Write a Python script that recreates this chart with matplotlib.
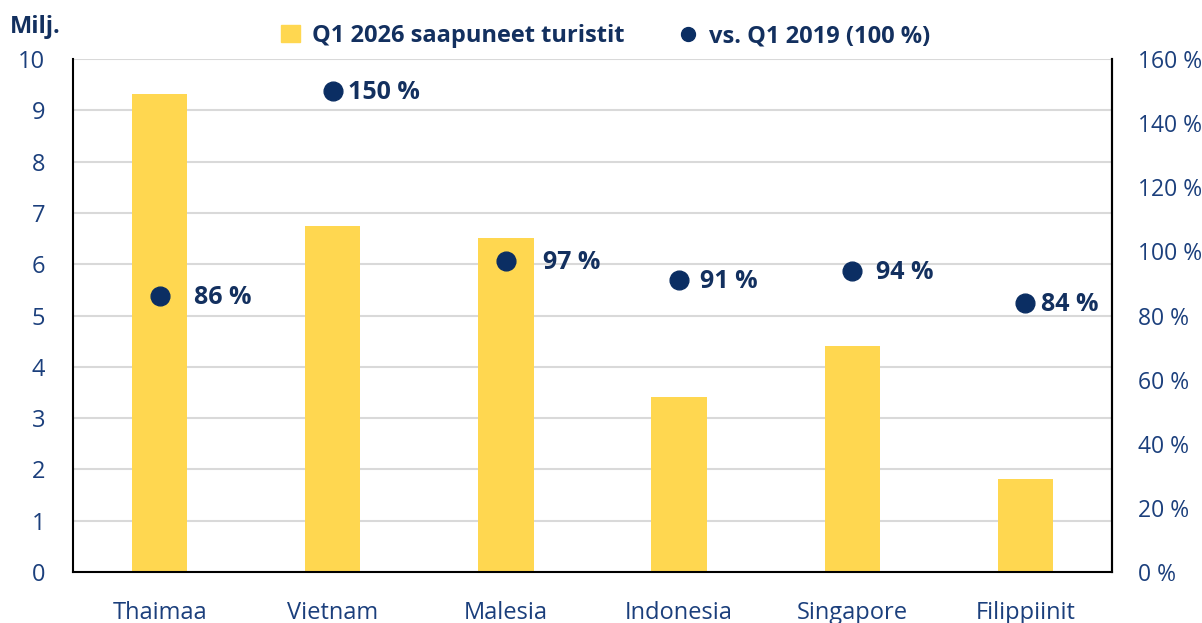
import numpy as np
import matplotlib
matplotlib.use("Agg")
import matplotlib.pyplot as plt
from matplotlib.lines import Line2D
from matplotlib.patches import Patch

plt.rcParams['font.family'] = ['Open Sans', 'DejaVu Sans']

countries = ['Thaimaa', 'Vietnam', 'Malesia', 'Indonesia', 'Singapore', 'Filippiinit']
arrivals = [9.32, 6.75, 6.51, 3.41, 4.41, 1.81]
vs_2019 = [86, 150, 97, 91, 94, 84]
left_ticks = list(range(0, 11))
right_ticks = list(range(0, 161, 20))

# label offsets (points) to the right of each dot, as placed in the original
label_dx = [25, 11, 27, 15, 17, 11]

bar_col = '#FFD750'
dot_col = '#0B2E63'
txt_col = '#1B3F7C'
navy = '#13305F'

fig = plt.figure(figsize=(12.02, 6.23), dpi=100)
ax = fig.add_axes([73/1202, 1-572/623, (1112-73)/1202, (572-59)/623])
x = np.arange(len(countries))
ax.bar(x, arrivals, width=0.32, color=bar_col, zorder=2)
ax.set_xlim(-0.5, len(countries)-0.5)
ax.set_ylim(0, 10)
ax.set_yticks(left_ticks)
ax.grid(axis='y', color='#D9D9D9', lw=1.5, zorder=0)
ax.set_axisbelow(True)
ax.set_xticks(x)
ax.set_xticklabels(countries)
ax.tick_params(axis='x', length=0, pad=21, labelsize=17, labelcolor=txt_col)
ax.tick_params(axis='y', length=0, pad=20, labelsize=17, labelcolor=txt_col)
for s in ['left', 'bottom', 'right']:
    ax.spines[s].set_color('black')
    ax.spines[s].set_linewidth(1.5)
ax.spines['top'].set_visible(False)

ax2 = ax.twinx()
ax2.set_ylim(0, 160)
ax2.set_yticks(right_ticks)
ax2.set_yticklabels([f'{t} %' for t in right_ticks])
ax2.tick_params(axis='y', length=0, pad=19, labelsize=16.5, labelcolor=txt_col)
for s in ['top', 'left', 'bottom']:
    ax2.spines[s].set_visible(False)
ax2.spines['right'].set_color('black')
ax2.spines['right'].set_linewidth(1.5)
ax2.plot(x, vs_2019, 'o', color=dot_col, ms=13.5, zorder=3)
for xi, v, dx in zip(x, vs_2019, label_dx):
    ax2.annotate(f'{v} %', (xi, v), xytext=(dx, -1), textcoords='offset points',
                 va='center', ha='left', fontsize=18, fontweight='bold', color=navy)

fig.text(10/1202, 1-27/623, 'Milj.', fontsize=17, fontweight='bold', color=navy,
         va='center', ha='left')

handles = [Patch(color=bar_col), Line2D([], [], marker='o', ls='', color=dot_col, ms=10)]
fig.legend(handles, ['Q1 2026 saapuneet turistit', 'vs. Q1 2019 (100 %)'],
           loc='center', bbox_to_anchor=(606/1202, 1-36/623), ncol=2, frameon=False,
           prop={'size': 17, 'weight': 'bold'}, labelcolor=navy,
           handlelength=0.8, handletextpad=0.5, columnspacing=2.3)

fig.savefig('out.png', dpi=100)
